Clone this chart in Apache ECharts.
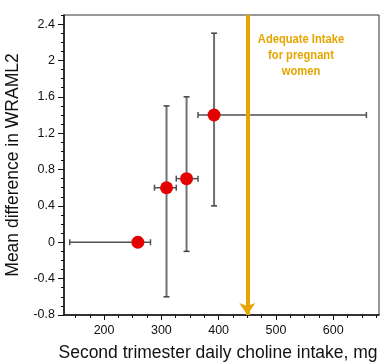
<!DOCTYPE html>
<html>
<head>
<meta charset="utf-8">
<script src="https://cdn.jsdelivr.net/npm/echarts@6/dist/echarts.min.js"></script>
<style>
  html, body { margin: 0; padding: 0; background: #fff; }
  #chart { width: 380px; height: 362px; }
</style>
</head>
<body>
<div id="chart"></div>
<script>
// choline intake groups (mg) vs mean difference in WRAML2
const choline = [259, 309, 344, 392];
const wramlDiff = [0, 0.6, 0.7, 1.4];
const cholineLow = [140, 288, 326, 364];
const cholineHigh = [281, 326, 364, 658];
const diffLow = [0, -0.6, -0.1, 0.4];
const diffHigh = [0, 1.5, 1.6, 2.3];
const adequateIntake = 450;

const xLabels = [200, 300, 400, 500, 600];
const yLabels = [-0.8, -0.4, 0, 0.4, 0.8, 1.2, 1.6, 2, 2.4];

const X_MIN = 130, X_MAX = 680, Y_MIN = -0.8, Y_MAX = 2.5;
const ORANGE = "#E6A500";
const FONT = "Liberation Sans, Arial, sans-serif";

const xMinor = [];
for (let v = 150; v <= 675; v += 25) xMinor.push(v);
const yMinor = [];
for (let i = -7; i <= 25; i++) yMinor.push(i / 10);

const barData = choline.map((x, i) => [x, wramlDiff[i], cholineLow[i], cholineHigh[i], diffLow[i], diffHigh[i]]);
const pointData = choline.map((x, i) => [x, wramlDiff[i]]);

function renderBars(params, api) {
  const x = api.value(0), y = api.value(1);
  const cap = 3;
  const hl = api.coord([api.value(2), y]);
  const hr = api.coord([api.value(3), y]);
  const hStyle = { stroke: "#505050", lineWidth: 1.5 };
  const children = [
    { type: "line", shape: { x1: hl[0], y1: hl[1], x2: hr[0], y2: hr[1] }, style: hStyle },
    { type: "line", shape: { x1: hl[0], y1: hl[1] - cap, x2: hl[0], y2: hl[1] + cap }, style: hStyle },
    { type: "line", shape: { x1: hr[0], y1: hr[1] - cap, x2: hr[0], y2: hr[1] + cap }, style: hStyle },
  ];
  if (api.value(4) !== api.value(5)) {
    const vb = api.coord([x, api.value(4)]);
    const vt = api.coord([x, api.value(5)]);
    const vStyle = { stroke: "#707070", lineWidth: 2 };
    const cStyle = { stroke: "#404040", lineWidth: 1.5 };
    children.push(
      { type: "line", shape: { x1: vb[0], y1: vb[1], x2: vt[0], y2: vt[1] }, style: vStyle },
      { type: "line", shape: { x1: vb[0] - cap, y1: vb[1], x2: vb[0] + cap, y2: vb[1] }, style: cStyle },
      { type: "line", shape: { x1: vt[0] - cap, y1: vt[1], x2: vt[0] + cap, y2: vt[1] }, style: cStyle }
    );
  }
  return { type: "group", children };
}

const chart = echarts.init(document.getElementById("chart"));

const option = {
  animation: false,
  backgroundColor: "#fff",
  textStyle: { fontFamily: FONT },
  grid: {
    left: 64, top: 15, width: 315, height: 300,
    outerBoundsMode: "none",
    show: true, borderColor: "#333", borderWidth: 1,
  },
  xAxis: [
    {
      type: "value", min: X_MIN, max: X_MAX,
      name: "Second trimester daily choline intake, mg",
      nameLocation: "middle", nameGap: 29,
      nameTextStyle: { fontSize: 17.5, color: "#111", fontFamily: FONT, padding: [0, 7, 0, 0] },
      axisLine: { onZero: false, lineStyle: { color: "#111", width: 1.5 } },
      axisTick: { customValues: xLabels, length: 5, lineStyle: { color: "#111" } },
      axisLabel: { customValues: xLabels, margin: 9, fontSize: 12.5, color: "#111", fontFamily: FONT },
      splitLine: { show: false },
    },
    {
      type: "value", min: X_MIN, max: X_MAX, position: "bottom", offset: 0,
      axisLine: { show: false, onZero: false },
      axisTick: { customValues: xMinor, length: 3, lineStyle: { color: "#111" } },
      axisLabel: { show: false },
      splitLine: { show: false },
    },
  ],
  yAxis: [
    {
      type: "value", min: Y_MIN, max: Y_MAX,
      name: "Mean difference in WRAML2",
      nameLocation: "middle", nameGap: 37,
      nameTextStyle: { fontSize: 17.5, color: "#111", fontFamily: FONT },
      axisLine: { show: true, onZero: false, lineStyle: { color: "#111", width: 1.5 } },
      axisTick: { show: true, customValues: yLabels, length: 6, lineStyle: { color: "#111" } },
      axisLabel: {
        customValues: yLabels, margin: 9, fontSize: 12.5, color: "#111", fontFamily: FONT,
        formatter: (v) => String(Math.round(v * 10) / 10),
      },
      splitLine: { show: false },
    },
    {
      type: "value", min: Y_MIN, max: Y_MAX, position: "left", offset: 0,
      axisLine: { show: false, onZero: false },
      axisTick: { show: true, customValues: yMinor, length: 3, lineStyle: { color: "#111" } },
      axisLabel: { show: false },
      splitLine: { show: false },
    },
  ],
  graphic: [
    {
      type: "text", x: 301, y: 31, scaleX: 0.86,
      style: {
        text: "Adequate Intake\nfor pregnant\nwomen",
        fill: ORANGE, fontWeight: "bold", fontSize: 13,
        fontFamily: "Liberation Sans, Arial, sans-serif",
        align: "center", lineHeight: 16,
      },
    },
  ],
  series: [
    {
      type: "custom", name: "bars", renderItem: renderBars, data: barData,
      encode: { x: 0, y: 1 }, z: 2, silent: true,
    },
    {
      type: "scatter", name: "means", data: pointData, symbolSize: 13, z: 3,
      itemStyle: { color: "#E50000", opacity: 1 },
      markLine: {
        silent: true, z: 5,
        symbol: ["arrow", "none"], symbolSize: 12,
        label: { show: false },
        lineStyle: { color: ORANGE, width: 4, type: "solid", opacity: 1 },
        data: [{ xAxis: adequateIntake }],
      },
    },
  ],
};

chart.setOption(option);
window.addEventListener("resize", () => chart.resize());
</script>
</body>
</html>
